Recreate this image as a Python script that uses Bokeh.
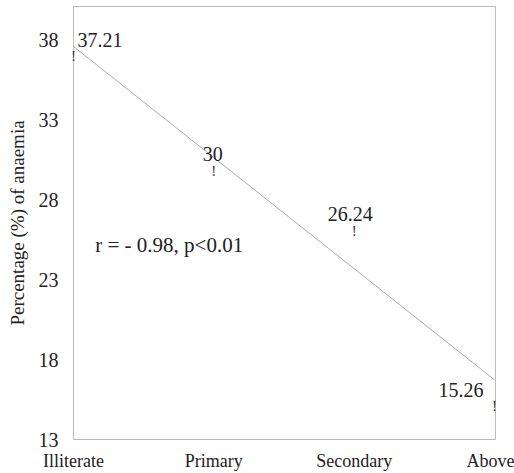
from bokeh.plotting import figure
from bokeh.models import FixedTicker, Label, ColumnDataSource, Range1d
from bokeh.embed import file_html
from bokeh.resources import INLINE
from bokeh.core.properties import value

# ---- data ----
categories = ["Illiterate", "Primary", "Secondary", "Above"]
anaemia_pct = [37.21, 30.0, 26.24, 15.26]
value_labels = ["37.21", "30", "26.24", "15.26"]
trend_ends = [37.62, 16.74]          # fitted line at first and last category
y_ticks = [13, 18, 23, 28, 33, 38]
annotation_text = "r = - 0.98,  p<0.01"
y_title = "Percentage (%) of anaemia"

x_pos = list(range(len(categories)))

# ---- styling ----
label_dx = [4, -1, -4, -11]
label_dy = [-13, -14, -14, -13]
label_align = ["left", "center", "center", "right"]

GF = "Times"
TXT = "#222222"

# plot box (drawn frame) and a small padding around it so edge marks are not clipped
box_x = (0, 3.007)
box_y = (13, 40.125)
pad_x = (4 / 140.33, 5 / 140.33)
pad_y = 2 / 16

p = figure(width=514, height=473, output_backend="svg", toolbar_location=None,
           x_range=Range1d(box_x[0] - pad_x[0], box_x[1] + pad_x[1] - 0.007),
           y_range=Range1d(box_y[0] - pad_y, box_y[1] + pad_y),
           min_border_left=69, min_border_right=15, min_border_top=4,
           min_border_bottom=31)

p.grid.visible = False
p.outline_line_color = None
p.background_fill_color = "white"
p.border_fill_color = "white"

p.quad(left=box_x[0], right=box_x[1], bottom=box_y[0], top=box_y[1],
       fill_color=None, line_color="#bbbbbb", line_width=1)

# axes
p.yaxis.ticker = FixedTicker(ticks=y_ticks)
p.xaxis.ticker = FixedTicker(ticks=x_pos)
p.xaxis.major_label_overrides = {i: c for i, c in zip(x_pos, categories)}
for ax in (p.xaxis[0], p.yaxis[0]):
    ax.axis_line_color = None
    ax.major_tick_line_color = None
    ax.minor_tick_line_color = None
    ax.major_tick_out = 0
    ax.major_tick_in = 0
    ax.major_label_text_font = "Liberation Serif"
    ax.major_label_text_color = TXT
p.xaxis.major_label_text_font_size = "18px"
p.xaxis.major_label_standoff = 9
p.yaxis.major_label_text_font_size = "20px"
p.yaxis.major_label_standoff = 11
p.yaxis.axis_label = y_title
p.yaxis.axis_label_text_font = "Liberation Serif"
p.yaxis.axis_label_text_font_style = "normal"
p.yaxis.axis_label_text_font_size = "19px"
p.yaxis.axis_label_text_color = TXT
p.yaxis.axis_label_standoff = 8

# trend line
p.line(x=[x_pos[0], x_pos[-1]], y=trend_ends, line_color="#aaaaaa", line_width=1)

# point markers ("!")
p.text(x=x_pos, y=anaemia_pct, text=["!"] * len(x_pos), text_align="center",
       text_baseline="middle", text_font=value(GF), text_font_size="15px",
       text_color="#333333", y_offset=3)

# value labels
src = ColumnDataSource(dict(x=x_pos, y=anaemia_pct, t=value_labels,
                            dx=label_dx, dy=label_dy, al=label_align))
p.text(x="x", y="y", text="t", x_offset="dx", y_offset="dy", text_align="al",
       text_baseline="middle", text_font=value(GF), text_font_size="20px",
       text_color=TXT, source=src)

# correlation annotation
p.add_layout(Label(x=0.155, y=25.19, text=annotation_text, text_font=GF,
                   text_font_size="21px", text_color=TXT, text_baseline="middle"))

open("out.html", "w").write(file_html(p, INLINE))
